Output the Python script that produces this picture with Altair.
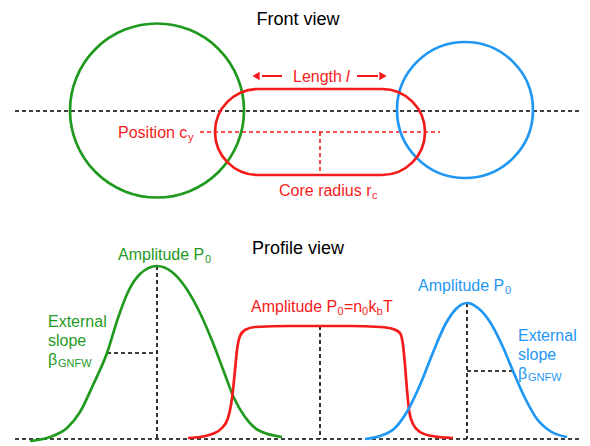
import altair as alt
import pandas as pd

GREEN = "#1f9a1f"
RED = "#f51b1b"
BLUE = "#1f97f3"
BLACK = "#000000"

# ---- Front view: circles (centre x, centre y, diameter) ----
circle_color = [GREEN, BLUE]
circle_cx = [157, 465]
circle_cy = [110.5, 110]
circle_d = [174, 136]

# ---- Front view: capsule (core) ----
capsule_x = [215, 425]
capsule_y = [89, 175]
capsule_radius = 43

# ---- Dashed guide lines (x, x2, y, y2, colour) ----
guide_x = [15, 200, 320, 15, 157, 107, 320, 467, 467]
guide_x2 = [580, 440, 320, 580, 157, 157, 320, 467, 513]
guide_y = [111, 132, 132, 439, 266, 353, 326, 303, 371]
guide_y2 = [111, 132, 175, 439, 439, 353, 439, 439, 371]
guide_c = [BLACK, RED, RED, BLACK, BLACK, BLACK, BLACK, BLACK, BLACK]

# ---- Length arrows ----
arrow_x = [262, 357]
arrow_x2 = [282, 378]
arrow_y = [76, 76]
arrowhead_x = [256, 383]
arrowhead_shape = ["triangle-left", "triangle-right"]

# ---- Profile view curves ----
green_x = [30, 50, 67, 80, 93, 107, 118, 128, 140, 157, 172, 186, 200, 213, 224, 234, 245, 258, 282]
green_y = [441, 437, 428, 412, 385, 353, 318, 292, 274, 266, 272, 288, 313, 343, 372, 398, 417, 430, 437]

red_x = [188, 200, 212, 222, 228, 231, 233, 235, 237, 240, 245, 255, 290, 320, 350, 380, 393, 400, 403, 405, 407, 409, 413, 420, 432, 453]
red_y = [438, 437, 434, 428, 418, 405, 390, 370, 350, 336, 330, 327, 326, 326, 326, 327, 329, 333, 345, 365, 390, 410, 424, 432, 436, 438]

blue_x = [365, 380, 395, 408, 420, 432, 445, 456, 467, 478, 490, 502, 513, 525, 537, 550, 567]
blue_y = [439, 436, 428, 410, 385, 355, 325, 309, 303, 308, 322, 345, 371, 398, 419, 431, 437]

# ---- Text runs ----
title_text = ["Front view", "Profile view"]
title_x = [298, 298]
title_y = [24.5, 254]

label_text = ["Length", "Position c", "y", "Core radius r", "c",
              "Amplitude P", "0", "External", "slope", "β", "GNFW",
              "Amplitude P", "0", "=n", "0", "k", "b", "T",
              "Amplitude P", "0", "External", "slope", "β", "GNFW"]
label_x = [293, 118, 188, 279, 372,
           118, 205, 48, 48, 48, 58,
           251, 337.5, 344, 362, 368.5, 376.5, 383,
           418, 505, 518, 518, 518, 528]
label_y = [82, 138, 141, 196, 199,
           260, 263, 327, 346, 365, 367,
           312, 315, 312, 315, 312, 315, 312,
           291, 294, 341, 360, 379, 381]
label_size = [16, 16, 11, 16, 11,
              16, 11, 16, 16, 16, 11,
              16, 11, 16, 11, 16, 11, 16,
              16, 11, 16, 16, 16, 11]
label_c = [RED, RED, RED, RED, RED,
           GREEN, GREEN, GREEN, GREEN, GREEN, GREEN,
           RED, RED, RED, RED, RED, RED, RED,
           BLUE, BLUE, BLUE, BLUE, BLUE, BLUE]

italic_text = ["l"]
italic_x = [346]
italic_y = [82]

FONT = "Liberation Sans"
XS = alt.Scale(domain=[8, 582], nice=False, zero=False)
YS = alt.Scale(domain=[8, 442], nice=False, zero=False, reverse=True)


def X(f):
    return alt.X(f, type="quantitative", scale=XS, axis=None)


def Y(f):
    return alt.Y(f, type="quantitative", scale=YS, axis=None)


circles = alt.Chart(pd.DataFrame({
    "x": circle_cx, "y": circle_cy, "s": [d * d for d in circle_d], "c": circle_color
})).mark_point(shape="circle", filled=False, strokeWidth=2.7, opacity=1).encode(
    x=X("x"), y=Y("y"),
    size=alt.Size("s:Q", scale=None),
    stroke=alt.Stroke("c:N", scale=None),
)

capsule = alt.Chart(pd.DataFrame({
    "x": [capsule_x[0]], "x2": [capsule_x[1]], "y": [capsule_y[0]], "y2": [capsule_y[1]]
})).mark_rect(cornerRadius=capsule_radius, fillOpacity=0, stroke=RED, strokeWidth=2.7).encode(
    x=X("x"), x2="x2", y=Y("y"), y2="y2"
)

guides = alt.Chart(pd.DataFrame({
    "x": guide_x, "x2": guide_x2, "y": guide_y, "y2": guide_y2, "c": guide_c
})).mark_rule(strokeDash=[4, 3], strokeWidth=1.6).encode(
    x=X("x"), x2="x2", y=Y("y"), y2="y2",
    color=alt.Color("c:N", scale=None),
)

arrows = alt.Chart(pd.DataFrame({
    "x": arrow_x, "x2": arrow_x2, "y": arrow_y
})).mark_rule(strokeWidth=2, color=RED).encode(
    x=X("x"), x2="x2", y=Y("y")
)

heads = alt.Chart(pd.DataFrame({
    "x": arrowhead_x, "y": arrow_y, "shape": arrowhead_shape
})).mark_point(filled=True, size=70, color=RED, opacity=1).encode(
    x=X("x"), y=Y("y"),
    shape=alt.Shape("shape:N", scale=None),
)

curve_df = pd.concat([
    pd.DataFrame({"x": green_x, "y": green_y, "c": GREEN}),
    pd.DataFrame({"x": red_x, "y": red_y, "c": RED}),
    pd.DataFrame({"x": blue_x, "y": blue_y, "c": BLUE}),
])
curves = alt.Chart(curve_df).mark_line(interpolate="monotone", strokeWidth=2.7).encode(
    x=X("x"), y=Y("y"),
    color=alt.Color("c:N", scale=None),
)

titles = alt.Chart(pd.DataFrame({
    "t": title_text, "x": title_x, "y": title_y
})).mark_text(font=FONT, fontSize=18, align="center", baseline="alphabetic", color=BLACK).encode(
    x=X("x"), y=Y("y"), text="t:N"
)

labels = alt.Chart(pd.DataFrame({
    "t": label_text, "x": label_x, "y": label_y, "s": label_size, "c": label_c
})).mark_text(font=FONT, align="left", baseline="alphabetic").encode(
    x=X("x"), y=Y("y"), text="t:N",
    size=alt.Size("s:Q", scale=None),
    color=alt.Color("c:N", scale=None),
)

italics = alt.Chart(pd.DataFrame({
    "t": italic_text, "x": italic_x, "y": italic_y
})).mark_text(font=FONT, fontSize=16, fontStyle="italic", align="left",
              baseline="alphabetic", color=RED).encode(
    x=X("x"), y=Y("y"), text="t:N"
)

chart = alt.layer(
    guides, circles, capsule, arrows, heads, curves, titles, labels, italics
).properties(
    width=574, height=434,
    autosize=alt.AutoSizeParams(type="none"),
    padding=0,
    background="white",
).configure_view(stroke=None)

chart.save("out.html", embed_options={"renderer": "svg", "actions": False})
